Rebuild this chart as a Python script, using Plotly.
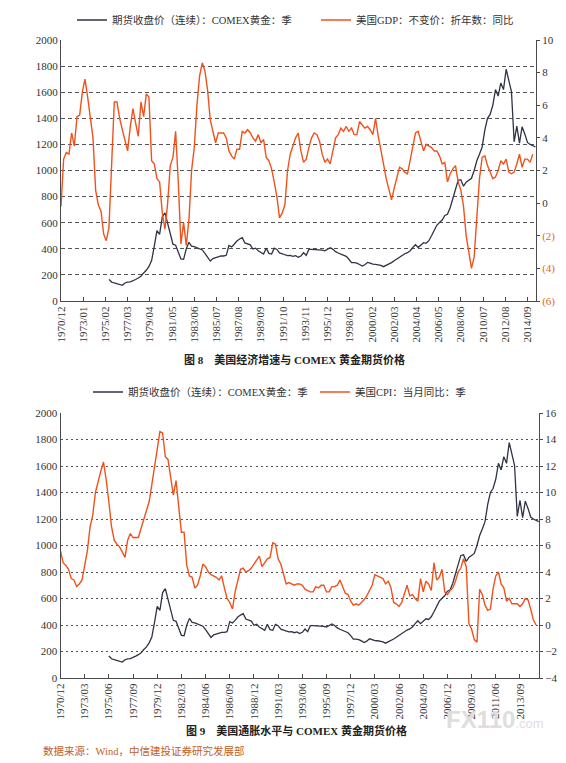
import pandas as pd
import plotly.graph_objects as go

W, H = 566, 763

# ---------------- data (quarterly) ----------------
# COMEX gold futures close, quarterly, from 1975-06
gold = [166, 145, 138, 133, 127, 120, 138, 145, 146, 154,
        165, 176, 190, 215, 235, 265, 310, 420, 540, 510,
        645, 675, 600, 505, 435, 428, 375, 322, 319, 400,
        450, 420, 416, 408, 395, 391, 365, 330, 306, 325,
        332, 340, 345, 345, 350, 425, 415, 435, 460, 475,
        485, 445, 435, 430, 398, 405, 385, 375, 360, 405,
        365, 360, 405, 395, 368, 362, 355, 348, 350, 342,
        348, 335, 345, 370, 350, 395, 396, 395, 392, 395,
        390, 385, 395, 408, 396, 378, 368, 360, 350, 342,
        320, 294, 294, 290, 280, 268, 278, 296, 290, 282,
        281, 278, 273, 263, 273, 281, 294, 308, 322, 335,
        350, 362, 370, 385, 410, 432, 410, 432, 447, 442,
        462, 500, 545, 580, 602, 620, 655, 664, 715, 785,
        856, 925, 930, 880, 910, 927, 940, 1000, 1075, 1125,
        1180, 1310, 1400, 1430, 1500, 1620, 1570, 1670, 1620, 1776,
        1690, 1605, 1220, 1340, 1210, 1335, 1280, 1215, 1200, 1190, 1180]
gold_start = "1975-06-01"

# US real GDP, YoY %, quarterly from 1970-12
gdp = [-0.2, 2.7, 3.1, 3.0, 4.3, 3.5, 5.3, 5.4, 6.8, 7.6,
       6.5, 5.1, 4.0, 0.8, -0.1, -0.5, -1.9, -2.3, -1.5, 2.4,
       6.2, 6.2, 5.2, 4.5, 3.9, 3.2, 4.7, 5.8, 4.9, 4.1,
       6.2, 5.3, 6.7, 6.5, 2.6, 2.4, 1.5, 1.3, -0.6, -1.6,
       0.0, 2.3, 2.8, 4.4, 1.3, -2.5, -1.2, -2.6, -1.0, 2.0,
       3.4, 6.0, 7.8, 8.6, 8.1, 6.9, 5.1, 4.3, 3.7, 4.3,
       4.3, 4.3, 4.0, 3.2, 2.9, 2.7, 3.3, 3.3, 4.4, 4.3,
       4.5, 4.3, 4.0, 3.8, 4.2, 3.7, 3.9, 2.8, 2.6, 2.1,
       1.3, 0.4, -0.9, -0.6, -0.1, 2.0, 3.0, 3.5, 4.0, 4.3,
       3.2, 2.5, 2.7, 3.4, 4.0, 4.3, 4.2, 3.8, 3.0, 2.5,
       2.7, 2.4, 3.2, 4.0, 4.2, 4.6, 4.4, 4.7, 4.4, 4.6,
       4.2, 4.2, 5.0, 4.8, 4.6, 4.7, 4.5, 4.2, 5.2, 4.1,
       3.1, 2.4, 1.5, 0.8, 0.2, 0.9, 1.5, 2.2, 2.1, 1.9,
       1.8, 2.6, 3.6, 4.3, 4.4, 3.7, 3.2, 3.6, 3.5, 3.4,
       3.2, 3.2, 2.9, 2.4, 2.5, 1.3, 1.8, 2.1, 2.3, 1.3,
       0.8, -0.2, -2.0, -3.0, -4.0, -3.3, -1.0, 1.5, 2.8, 2.9,
       2.3, 1.9, 1.5, 1.6, 2.0, 2.6, 2.4, 2.7, 1.9, 1.8,
       1.9, 2.4, 3.0, 2.2, 2.7, 2.7, 2.5, 3.0]

# US CPI, YoY %, quarterly from 1970-12
cpi = [5.6, 4.7, 4.5, 4.2, 3.5, 3.4, 2.9, 3.1, 3.4, 4.6,
       5.6, 7.4, 8.3, 10.0, 10.7, 11.6, 12.3, 11.0, 9.3, 7.4,
       6.4, 6.1, 5.9, 5.5, 5.1, 6.4, 6.9, 6.6, 6.6, 6.6,
       7.3, 8.0, 8.6, 9.3, 10.6, 12.0, 13.2, 14.6, 14.5, 12.7,
       12.5, 11.2, 9.8, 10.9, 8.9, 7.0, 7.0, 4.5, 3.7, 3.6,
       2.8, 3.0, 3.7, 4.6, 4.4, 4.0, 3.8, 3.7, 3.6, 3.4,
       3.7, 2.8, 2.0, 1.7, 1.2, 2.5, 3.4, 4.2, 4.3, 4.0,
       4.1, 4.3, 4.6, 4.9, 5.2, 4.4, 4.7, 5.0, 5.1, 6.2,
       6.1, 5.0, 4.6, 3.8, 3.1, 3.2, 3.1, 3.0, 3.1, 3.1,
       3.0, 2.7, 2.6, 2.5, 2.5, 2.9, 2.8, 3.0, 3.0, 2.5,
       2.5, 2.9, 2.9, 3.0, 3.4, 2.9, 2.4, 2.3, 1.8, 1.5,
       1.6, 1.5, 1.7, 1.9, 2.2, 2.6, 3.0, 3.8, 3.7, 3.6,
       3.5, 3.1, 3.3, 2.8, 1.7, 1.6, 1.4, 1.7, 2.3, 3.0,
       2.2, 2.3, 2.0, 1.8, 3.5, 2.5, 3.3, 3.1, 2.6, 4.7,
       3.4, 3.6, 4.2, 2.5, 2.3, 2.6, 2.8, 3.3, 4.0, 4.3,
       5.0, 4.4, 0.1, -0.3, -1.1, -1.3, 2.7, 2.3, 1.5, 1.1,
       1.2, 2.7, 3.7, 4.0, 3.1, 2.8, 1.8, 2.0, 1.6, 1.6,
       1.6, 1.4, 1.6, 2.0, 1.9, 1.2, 0.4, 0.0]
macro_start = "1970-12-01"

# tick labels
ticks_top = ["1970/12", "1973/01", "1975/02", "1977/03", "1979/04", "1981/05",
             "1983/06", "1985/07", "1987/08", "1989/09", "1991/10", "1993/11",
             "1995/12", "1998/01", "2000/02", "2002/03", "2004/04", "2006/05",
             "2008/06", "2010/07", "2012/08", "2014/09"]
ticks_bot = ["1970/12", "1973/03", "1975/06", "1977/09", "1979/12", "1982/03",
             "1984/06", "1986/09", "1988/12", "1991/03", "1993/06", "1995/09",
             "1997/12", "2000/03", "2002/06", "2004/09", "2006/12", "2009/03",
             "2011/06", "2013/09"]

name_gold = "期货收盘价（连续）：COMEX黄金：季"
name_gdp = "美国GDP：不变价：折年数：同比"
name_cpi = "美国CPI：当月同比：季"

# ---------------- build ----------------
d_gold = pd.date_range(gold_start, periods=len(gold), freq="3MS")
d_gdp = pd.date_range(macro_start, periods=len(gdp), freq="3MS")
d_cpi = pd.date_range(macro_start, periods=len(cpi), freq="3MS")

def tv(labels):
    return [pd.Timestamp(s.replace("/", "-") + "-01") for s in labels]

GOLD_C = "#2e3444"
ORANGE = "#f0521c"
AX = "#4a4a4a"
FONT = "Liberation Serif, Noto Sans CJK SC, serif"

def px(x):
    return x / W

def py(y):
    return 1 - y / H

fig = go.Figure()
fig.add_trace(go.Scatter(x=d_gold, y=gold, name=name_gold, mode="lines",
                         line=dict(color=GOLD_C, width=1.3),
                         xaxis="x", yaxis="y", legend="legend"))
fig.add_trace(go.Scatter(x=d_gdp, y=gdp, name=name_gdp, mode="lines",
                         line=dict(color=ORANGE, width=1.4),
                         xaxis="x", yaxis="y2", legend="legend"))
fig.add_trace(go.Scatter(x=d_gold, y=gold, name=name_gold, mode="lines",
                         line=dict(color=GOLD_C, width=1.3),
                         xaxis="x2", yaxis="y3", legend="legend2"))
fig.add_trace(go.Scatter(x=d_cpi, y=cpi, name=name_cpi, mode="lines",
                         line=dict(color=ORANGE, width=1.4),
                         xaxis="x2", yaxis="y4", legend="legend2"))

tickfont = dict(family=FONT, size=11, color="#333")
legfont = dict(family=FONT, size=10.5, color="#333")

xcommon = dict(type="date", showgrid=False, zeroline=False, showline=True,
               linecolor=AX, linewidth=1, ticks="inside", ticklen=4,
               tickcolor=AX, tickangle=-90, tickfont=tickfont, automargin=False)
ycommon_left = dict(range=[0, 2000], dtick=200, showgrid=True,
                    gridcolor="#555", gridwidth=1, zeroline=False,
                    showline=True, linecolor=AX, linewidth=1,
                    tickfont=tickfont, ticks="", automargin=False)
yright = dict(showgrid=False, zeroline=False, showline=True, linecolor=AX,
              linewidth=1, ticks="outside", ticklen=3, tickcolor=AX,
              tickfont=tickfont, automargin=False)

gdp_vals = list(range(-6, 11, 2))
gdp_text = [("<span style='color:#e8651e'>(%d)</span>" % -v) if v < 0 else str(v)
            for v in gdp_vals]
cpi_vals = list(range(-4, 17, 2))
cpi_text = [("−%d" % -v) if v < 0 else str(v) for v in cpi_vals]

fig.update_layout(
    width=W, height=H,
    margin=dict(l=0, r=0, t=0, b=0, autoexpand=False),
    paper_bgcolor="white", plot_bgcolor="white",
    font=dict(family=FONT, size=11, color="#333"),
    xaxis=dict(xcommon, domain=[px(53), px(528)], anchor="y",
               range=["1970-12-01", "2015-06-20"],
               tickvals=tv(ticks_top), ticktext=ticks_top),
    yaxis=dict(ycommon_left, domain=[py(293), py(32)], anchor="x",
               griddash="4px,3px"),
    yaxis2=dict(yright, range=[-6, 10], overlaying="y", side="right",
                anchor="x", tickvals=gdp_vals, ticktext=gdp_text),
    xaxis2=dict(xcommon, domain=[px(52.5), px(531)], anchor="y3",
                range=["1970-12-01", "2015-06-10"],
                tickvals=tv(ticks_bot), ticktext=ticks_bot),
    yaxis3=dict(ycommon_left, domain=[py(670), py(405)], anchor="x2",
                griddash="2px,3px"),
    yaxis4=dict(yright, range=[-4, 16], overlaying="y3", side="right",
                anchor="x2", tickvals=cpi_vals, ticktext=cpi_text),
    legend=dict(orientation="h", x=px(64), y=py(12), xanchor="left",
                yanchor="middle", font=legfont,
                itemwidth=30, entrywidth=199, entrywidthmode="pixels",
                bgcolor="rgba(0,0,0,0)"),
    legend2=dict(orientation="h", x=px(80), y=py(384), xanchor="left",
                 yanchor="middle", font=legfont,
                 itemwidth=30, entrywidth=182, entrywidthmode="pixels",
                 bgcolor="rgba(0,0,0,0)"),
    showlegend=True,
)

fig.add_annotation(x=px(286), y=py(352), xref="paper", yref="paper",
                   text="<b>图 8　美国经济增速与 COMEX 黄金期货价格</b>",
                   showarrow=False, font=dict(family=FONT, size=11, color="#222"))
fig.add_annotation(x=px(288), y=py(731), xref="paper", yref="paper",
                   text="<b>图 9　美国通胀水平与 COMEX 黄金期货价格</b>",
                   showarrow=False, font=dict(family=FONT, size=11, color="#222"))
fig.add_annotation(x=px(33), y=py(751), xref="paper", yref="paper",
                   xanchor="left", text="数据来源：Wind，中信建投证券研究发展部",
                   showarrow=False, font=dict(family=FONT, size=10.5, color="#c2601c"))
fig.add_annotation(x=px(538), y=py(727), xref="paper", yref="paper",
                   xanchor="right",
                   text="<b><span style='font-size:24px'>FX110</span></b>.com",
                   showarrow=False,
                   font=dict(family="Liberation Sans, sans-serif", size=13,
                             color="#dedede"))

fig.write_html("out.html")
